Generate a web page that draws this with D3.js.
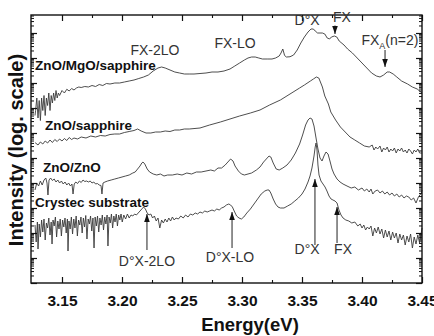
<!DOCTYPE html>
<html><head><meta charset="utf-8">
<script src="https://cdn.jsdelivr.net/npm/d3@7"></script>
<style>html,body{margin:0;padding:0;background:#fff;}svg{display:block;}</style>
</head><body>
<div id="chart"></div>
<script>
// ---- data: energy (eV), log10 intensity (arb.) ----
const energyTicks = [3.15, 3.20, 3.25, 3.30, 3.35, 3.40, 3.45];
const seriesNames = ["ZnO/MgO/sapphire", "ZnO/sapphire", "ZnO/ZnO", "Crystec substrate"];

const mgoSapphire = [
[3.1275,6.7],[3.128,6.9],[3.129,7.4],[3.130,6.6],[3.131,7.3],[3.132,6.5],[3.133,7.4],[3.134,6.9],[3.135,7.5],[3.136,6.7],
[3.137,7.4],[3.138,7.1],[3.139,7.6],[3.140,6.9],[3.141,7.5],[3.142,7.2],[3.143,7.6],[3.144,7.3],[3.145,7.7],[3.146,7.4],
[3.147,7.6],[3.148,7.5],[3.150,7.7],[3.152,7.6],[3.154,7.75],[3.156,7.68],[3.158,7.78],[3.160,7.72],[3.162,7.8],[3.164,7.84],
[3.166,7.82],[3.169,7.86],[3.172,7.84],[3.175,7.9],[3.178,7.86],[3.181,7.94],[3.184,7.9],[3.187,7.98],[3.190,7.96],[3.194,8.0],
[3.198,8.0],[3.202,8.04],[3.206,8.08],[3.210,8.12],[3.214,8.18],[3.218,8.24],[3.222,8.32],[3.226,8.48],[3.230,8.6],[3.233,8.64],
[3.236,8.6],[3.240,8.52],[3.244,8.44],[3.248,8.4],[3.252,8.36],[3.256,8.36],[3.260,8.36],[3.265,8.38],[3.270,8.4],[3.275,8.44],
[3.280,8.44],[3.285,8.48],[3.290,8.56],[3.294,8.68],[3.298,8.8],[3.302,8.92],[3.305,9.0],[3.308,9.04],[3.311,9.04],[3.314,9.0],
[3.317,8.96],[3.321,8.96],[3.325,8.96],[3.328,9.0],[3.331,9.08],[3.3325,9.2],[3.334,9.36],[3.3355,9.1],[3.337,9.04],[3.340,9.05],
[3.343,9.12],[3.346,9.32],[3.349,9.6],[3.352,9.84],[3.355,10.04],[3.3575,10.16],[3.3595,10.16],[3.361,10.08],[3.363,10.0],[3.365,10.0],
[3.367,10.0],[3.369,9.96],[3.371,9.8],[3.373,9.76],[3.3745,9.84],[3.377,9.88],[3.379,9.84],[3.381,9.68],[3.385,9.52],[3.388,9.36],
[3.392,9.2],[3.396,9.0],[3.400,8.8],[3.404,8.6],[3.408,8.4],[3.412,8.28],[3.415,8.24],[3.418,8.32],[3.421,8.44],[3.423,8.44],
[3.426,8.36],[3.429,8.24],[3.433,8.08],[3.438,7.96],[3.442,7.84],[3.446,7.76],[3.450,7.6]
];

const sapphire = [
[3.1275,5.6],[3.128,5.6],[3.130,5.52],[3.132,5.64],[3.134,5.56],[3.136,5.68],[3.138,5.6],[3.140,5.72],[3.142,5.62],[3.144,5.74],
[3.146,5.66],[3.148,5.76],[3.150,5.68],[3.152,5.78],[3.154,5.7],[3.156,5.82],[3.158,5.74],[3.160,5.8],[3.163,5.76],[3.166,5.84],
[3.170,5.8],[3.174,5.88],[3.178,5.84],[3.182,5.9],[3.186,5.88],[3.190,5.94],[3.194,5.96],[3.198,5.96],[3.202,6.02],[3.206,6.06],
[3.210,6.1],[3.213,6.16],[3.216,6.08],[3.220,6.0],[3.224,6.0],[3.228,6.04],[3.232,6.04],[3.236,6.08],[3.240,6.06],[3.244,6.12],
[3.248,6.12],[3.252,6.16],[3.256,6.16],[3.265,6.2],[3.273,6.32],[3.282,6.44],[3.290,6.56],[3.298,6.68],[3.307,6.8],[3.315,6.92],
[3.323,7.12],[3.332,7.32],[3.340,7.56],[3.348,7.8],[3.352,7.92],[3.357,8.08],[3.3595,8.16],[3.362,8.24],[3.364,8.2],[3.365,8.08],
[3.367,7.84],[3.369,7.48],[3.372,7.16],[3.374,6.84],[3.378,6.52],[3.382,6.24],[3.386,6.04],[3.390,5.84],[3.394,5.72],[3.398,5.6],
[3.402,5.48],[3.406,5.44],[3.4085,5.52],[3.410,5.32],[3.4115,5.44],[3.413,5.36],[3.415,5.48],[3.4165,5.24],[3.418,5.4],[3.4195,5.32],
[3.421,5.44],[3.4225,5.24],[3.424,5.36],[3.4255,5.28],[3.427,5.4],[3.4285,5.2],[3.430,5.36],[3.4315,5.28],[3.433,5.4],[3.4345,5.24],
[3.436,5.32],[3.4375,5.2],[3.439,5.36],[3.4405,5.28],[3.442,5.16],[3.4435,5.32],[3.445,5.24],[3.4465,5.36],[3.448,5.2],[3.450,5.2]
];

const znoZno = [
[3.1275,3.72],[3.1290,4.0],[3.1305,3.88],[3.1320,4.08],[3.1335,3.92],[3.1350,4.12],[3.1365,4.2],[3.1375,4.0],[3.1383,3.52],[3.1392,4.12],
[3.1405,4.2],[3.1420,4.1],[3.1435,4.16],[3.1450,4.04],[3.1465,4.12],[3.1480,4.0],[3.1495,4.08],[3.1510,3.96],[3.1525,4.04],[3.1540,3.92],
[3.1555,4.0],[3.1570,3.88],[3.1583,3.96],[3.1592,3.56],[3.1602,3.96],[3.1615,4.04],[3.1630,3.98],[3.1645,4.08],[3.1660,4.02],[3.1675,4.12],
[3.1690,4.06],[3.1705,4.08],[3.1720,4.04],[3.1735,4.08],[3.1750,4.0],[3.1765,4.04],[3.1780,3.96],[3.1795,3.98],[3.1810,3.92],[3.1825,3.9],
[3.1833,3.56],[3.1842,4.0],[3.1858,4.04],[3.188,4.08],[3.191,4.12],[3.194,4.16],[3.197,4.2],[3.200,4.24],[3.203,4.28],[3.206,4.32],
[3.209,4.4],[3.211,4.44],[3.213,4.56],[3.215,4.68],[3.2165,4.8],[3.2175,4.84],[3.219,4.76],[3.221,4.56],[3.223,4.44],[3.226,4.36],
[3.229,4.32],[3.232,4.36],[3.235,4.28],[3.238,4.32],[3.242,4.32],[3.246,4.36],[3.250,4.32],[3.254,4.4],[3.258,4.36],[3.262,4.44],
[3.266,4.44],[3.270,4.48],[3.274,4.52],[3.277,4.48],[3.280,4.6],[3.283,4.6],[3.286,4.72],[3.289,4.88],[3.2905,4.96],[3.2925,4.88],
[3.2942,4.68],[3.297,4.48],[3.2995,4.36],[3.302,4.32],[3.305,4.36],[3.308,4.4],[3.312,4.52],[3.315,4.64],[3.318,4.84],[3.321,5.0],
[3.3225,5.08],[3.324,5.04],[3.326,4.8],[3.3285,4.56],[3.331,4.52],[3.334,4.6],[3.3375,4.72],[3.341,4.92],[3.3445,5.2],[3.348,5.56],
[3.3505,5.92],[3.353,6.32],[3.355,6.52],[3.3567,6.6],[3.3583,6.56],[3.360,6.28],[3.3617,5.8],[3.3633,5.36],[3.365,5.0],[3.3667,4.88],
[3.3683,5.08],[3.370,5.24],[3.3717,5.16],[3.3733,4.88],[3.375,4.56],[3.3767,4.36],[3.3792,4.16],[3.3817,4.04],[3.3842,3.96],[3.3875,3.88],
[3.391,3.8],[3.394,3.84],[3.397,3.72],[3.400,3.8],[3.402,3.68],[3.404,3.76],[3.406,3.64],[3.4075,3.76],[3.409,3.56],[3.411,3.68],
[3.413,3.72],[3.415,3.6],[3.417,3.68],[3.419,3.56],[3.421,3.64],[3.423,3.52],[3.425,3.6],[3.427,3.48],[3.429,3.56],[3.431,3.44],
[3.433,3.52],[3.435,3.4],[3.437,3.48],[3.439,3.44],[3.441,3.32],[3.443,3.4],[3.445,3.2],[3.447,3.44],[3.4495,3.6],[3.450,3.72]
];

const crystec = [
[3.1275,2.32],[3.1285,1.64],[3.1295,2.44],[3.1300,1.36],[3.1310,2.36],[3.1320,1.84],[3.1330,2.52],[3.1340,2.04],[3.1350,2.56],[3.1360,1.72],
[3.1370,2.4],[3.1380,2.2],[3.1390,2.6],[3.1400,1.92],[3.1410,2.44],[3.1417,1.56],[3.1425,2.52],[3.1435,2.28],[3.1445,2.64],[3.1455,1.84],
[3.1465,2.48],[3.1475,2.16],[3.1485,2.56],[3.1495,1.88],[3.1505,2.52],[3.1515,2.24],[3.1525,2.6],[3.1535,2.0],[3.1545,2.56],[3.1550,1.28],
[3.1558,2.48],[3.1568,2.16],[3.1578,2.64],[3.1588,1.96],[3.1598,2.56],[3.1608,2.2],[3.1618,2.68],[3.1628,1.88],[3.1638,2.52],[3.1648,2.32],
[3.1658,2.64],[3.1668,2.0],[3.1678,2.6],[3.1688,2.24],[3.1698,2.7],[3.1708,1.76],[3.1718,2.56],[3.1728,2.36],[3.1738,2.68],[3.1748,2.08],
[3.1758,2.6],[3.1767,1.4],[3.1776,2.64],[3.1786,2.28],[3.1796,2.68],[3.1806,2.04],[3.1816,2.6],[3.1826,2.32],[3.1836,2.72],[3.1846,2.12],
[3.1856,2.64],[3.1866,2.36],[3.1876,2.72],[3.1883,1.48],[3.1892,2.64],[3.1902,2.4],[3.1912,2.76],[3.1922,2.2],[3.1932,2.68],[3.1942,2.44],
[3.1952,2.76],[3.1962,2.28],[3.1972,2.72],[3.1982,2.52],[3.1992,2.76],[3.2002,2.44],[3.2015,2.72],[3.2030,2.56],[3.2045,2.76],[3.2060,2.6],
[3.2075,2.72],[3.2090,2.68],[3.2105,2.76],[3.2120,2.72],[3.2135,2.8],[3.2150,2.88],[3.2165,2.96],[3.2180,3.04],[3.2195,2.96],[3.2210,2.8],
[3.2225,2.72],[3.2240,2.76],[3.2255,2.6],[3.2270,2.68],[3.2285,2.48],[3.2300,2.6],[3.2315,2.2],[3.2330,2.52],[3.2345,2.4],[3.2360,2.56],
[3.2375,2.44],[3.2390,2.6],[3.2405,2.48],[3.2420,2.64],[3.2435,2.52],[3.2450,2.6],[3.2470,2.56],[3.2490,2.68],[3.2510,2.6],[3.2530,2.72],
[3.2550,2.64],[3.2570,2.76],[3.2590,2.72],[3.2610,2.8],[3.2630,2.76],[3.2650,2.84],[3.2670,2.8],[3.2690,2.88],[3.2710,2.84],[3.2730,2.88],
[3.2750,2.92],[3.2770,2.88],[3.2790,2.96],[3.2810,2.92],[3.2830,3.0],[3.2850,3.04],[3.2870,3.12],[3.2890,3.16],[3.2905,3.12],[3.2920,3.04],
[3.2935,2.88],[3.2955,2.68],[3.2975,2.6],[3.2995,2.56],[3.3015,2.64],[3.3040,2.8],[3.3070,2.96],[3.3100,3.16],[3.3130,3.36],[3.3160,3.56],
[3.3190,3.68],[3.3210,3.72],[3.3225,3.72],[3.3240,3.6],[3.3260,3.36],[3.3280,3.16],[3.3300,3.04],[3.3320,3.0],[3.3350,3.0],[3.3380,3.08],
[3.3410,3.16],[3.3440,3.28],[3.3470,3.4],[3.3500,3.56],[3.3525,3.76],[3.3550,4.04],[3.3567,4.28],[3.3583,4.6],[3.3600,5.08],[3.3610,5.44],
[3.3617,5.6],[3.3625,5.32],[3.3633,4.72],[3.3642,4.32],[3.3658,4.08],[3.3675,3.96],[3.3692,3.84],[3.3708,3.68],[3.3725,3.48],[3.3742,3.36],
[3.3758,3.32],[3.3775,3.28],[3.3792,3.2],[3.3808,2.92],[3.3825,2.72],[3.3842,2.6],[3.3865,2.52],[3.3890,2.48],[3.3915,2.4],[3.3940,2.44],
[3.3965,2.28],[3.3985,2.36],[3.4000,2.2],[3.4015,2.32],[3.4030,2.12],[3.4045,2.24],[3.4060,2.16],[3.4075,2.28],[3.4090,1.88],[3.4105,2.2],
[3.4120,2.0],[3.4135,2.24],[3.4150,1.96],[3.4165,2.16],[3.4180,1.8],[3.4195,2.12],[3.4210,1.84],[3.4225,2.08],[3.4240,1.72],[3.4255,2.04],
[3.4270,1.8],[3.4285,2.0],[3.4300,1.6],[3.4315,1.96],[3.4330,1.72],[3.4345,1.92],[3.4360,1.52],[3.4375,1.88],[3.4390,1.64],[3.4405,1.96],
[3.4420,1.4],[3.4435,1.84],[3.4450,1.56],[3.4465,1.92],[3.4480,1.6],[3.4495,2.04],[3.4500,2.2]
];

// series label anchors: [energy, log10 intensity]
const seriesLabelPos = [[3.1275, 8.52], [3.1358, 6.12], [3.1342, 4.44], [3.1275, 3.04]];

// peak annotations above (arrow pointing down) and below (arrow pointing up)
// [text, label energy, label log10 I, arrow energy, arrow from logI, arrow to logI]
const topNotes = [
  ["FX-2LO", 3.2275, 9.12, null, null, null],
  ["FX-LO", 3.2942, 9.40, null, null, null],
  ["D°X", 3.3542, 10.32, null, null, null],
  ["FX", 3.3833, 10.44, 3.3775, 10.30, 9.96],
  ["FXA", 3.4233, 9.52, 3.4192, 9.32, 8.64]
];
const bottomNotes = [
  ["D°X-2LO", 3.2208, 0.68, 3.2208, 1.32, 2.76],
  ["D°X-LO", 3.2900, 0.84, 3.2917, 1.40, 2.84],
  ["D°X", 3.3542, 1.16, 3.3608, 1.52, 4.16],
  ["FX", 3.3842, 1.16, 3.3792, 1.60, 3.04]
];

// ---- layout ----
const W = 434, H = 336;
const M = {left: 31, right: 12, top: 15, bottom: 53};
const x = d3.scaleLinear().domain([3.124167, 3.45]).range([M.left, W - M.right]);
const y = d3.scaleLog().domain([1, Math.pow(10, 10.72)]).range([H - M.bottom, M.top]);
const Y = L => y(Math.pow(10, L));

const svg = d3.select("#chart").append("svg").attr("width", W).attr("height", H)
  .style("font-family", "'Liberation Sans', Arial, sans-serif");

// curves
const line = d3.line().x(d => x(d[0])).y(d => Y(d[1]));
[mgoSapphire, sapphire, znoZno, crystec].forEach(s => {
  svg.append("path").datum(s).attr("d", line)
    .attr("fill", "none").attr("stroke", "#3a3a3a").attr("stroke-width", 0.9)
    .attr("stroke-linejoin", "round");
});

// frame
const x0 = M.left, x1 = W - M.right, y0 = M.top, y1 = H - M.bottom;
svg.append("rect").attr("x", x0).attr("y", y0).attr("width", x1 - x0).attr("height", y1 - y0)
  .attr("fill", "none").attr("stroke", "#111").attr("stroke-width", 1.4);

// x ticks (inward, bottom and top)
const xMinor = energyTicks.slice(0, -1).map(v => v + 0.025);
const xAxisB = d3.axisBottom(x).tickValues(energyTicks).tickSize(-6).tickFormat(d3.format(".2f"));
const gB = svg.append("g").attr("transform", `translate(0,${y1})`).call(xAxisB);
gB.select(".domain").remove();
gB.selectAll("line").attr("stroke", "#111").attr("stroke-width", 1.2);
gB.selectAll("text").attr("y", 12).attr("dy", "0.71em").attr("font-size", 15.5).attr("font-weight", "bold")
  .attr("fill", "#111").attr("font-family", "'Liberation Sans', Arial, sans-serif");
const gBm = svg.append("g").attr("transform", `translate(0,${y1})`)
  .call(d3.axisBottom(x).tickValues(xMinor).tickSize(-3).tickFormat(""));
gBm.select(".domain").remove(); gBm.selectAll("line").attr("stroke", "#111").attr("stroke-width", 1.1);
const gT = svg.append("g").attr("transform", `translate(0,${y0})`)
  .call(d3.axisTop(x).tickValues(energyTicks).tickSize(-6).tickFormat(""));
gT.select(".domain").remove(); gT.selectAll("line").attr("stroke", "#111").attr("stroke-width", 1.2);
const gTm = svg.append("g").attr("transform", `translate(0,${y0})`)
  .call(d3.axisTop(x).tickValues(xMinor).tickSize(-3).tickFormat(""));
gTm.select(".domain").remove(); gTm.selectAll("line").attr("stroke", "#111").attr("stroke-width", 1.1);

// y ticks (log, inward, left and right, no labels)
const yMax = y.domain()[1];
const yMajor = [], yMinorT = [];
for (let d = 0; d <= 11; d++) {
  for (let m = 1; m <= 9; m++) {
    const v = m * Math.pow(10, d);
    if (v > yMax) continue;
    (m === 1 ? yMajor : yMinorT).push(v);
  }
}
[[d3.axisLeft, x0], [d3.axisRight, x1]].forEach(([ax, pos]) => {
  const g1 = svg.append("g").attr("transform", `translate(${pos},0)`)
    .call(ax(y).tickValues(yMajor).tickSize(-6).tickFormat(""));
  g1.select(".domain").remove(); g1.selectAll("line").attr("stroke", "#111").attr("stroke-width", 1.2);
  const g2 = svg.append("g").attr("transform", `translate(${pos},0)`)
    .call(ax(y).tickValues(yMinorT).tickSize(-3).tickFormat(""));
  g2.select(".domain").remove(); g2.selectAll("line").attr("stroke", "#111").attr("stroke-width", 1);
});

// axis titles
svg.append("text").attr("x", 250).attr("y", 331).attr("text-anchor", "middle")
  .attr("font-size", 18.5).attr("font-weight", "bold").attr("fill", "#111").text("Energy(eV)");
svg.append("text").attr("transform", `translate(23,150) rotate(-90)`).attr("text-anchor", "middle")
  .attr("font-size", 20).attr("font-weight", "bold").attr("fill", "#111").text("Intensity (log. scale)");

// series labels
seriesNames.forEach((n, i) => {
  svg.append("text").attr("x", x(seriesLabelPos[i][0])).attr("y", Y(seriesLabelPos[i][1]))
    .attr("font-size", 13.5).attr("font-weight", "bold").attr("fill", "#111").text(n);
});

// arrow marker helper
function arrow(xp, yFrom, yTo) {
  svg.append("line").attr("x1", xp).attr("x2", xp).attr("y1", yFrom).attr("y2", yTo)
    .attr("stroke", "#222").attr("stroke-width", 1);
  const dir = yTo > yFrom ? 1 : -1;
  svg.append("path")
    .attr("d", `M${xp},${yTo} L${xp - 2.8},${yTo - dir * 8} L${xp + 2.8},${yTo - dir * 8} Z`)
    .attr("fill", "#111");
}

// top annotations
topNotes.forEach(([t, e, L, ae, af, at]) => {
  const tx = svg.append("text").attr("x", x(e)).attr("y", Y(L)).attr("text-anchor", "middle")
    .attr("font-size", 14).attr("fill", "#333");
  if (t === "FXA") {
    tx.append("tspan").text("FX");
    tx.append("tspan").attr("font-size", 9).attr("dy", 4).text("A");
    tx.append("tspan").attr("dy", -4).text("(n=2)");
  } else tx.text(t);
  if (ae !== null) arrow(x(ae), Y(af), Y(at));
});
// bottom annotations
bottomNotes.forEach(([t, e, L, ae, af, at]) => {
  svg.append("text").attr("x", x(e)).attr("y", Y(L)).attr("text-anchor", "middle")
    .attr("font-size", 14).attr("fill", "#333").text(t);
  arrow(x(ae), Y(af), Y(at));
});
</script>
</body></html>
